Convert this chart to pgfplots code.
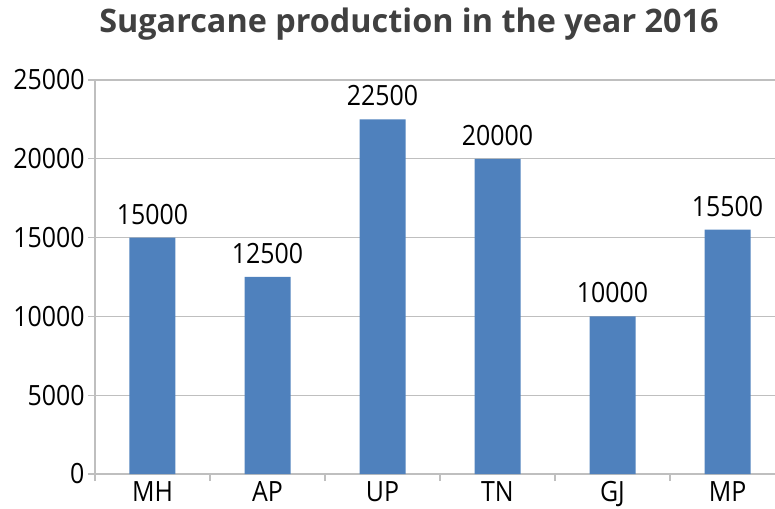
\documentclass[border=0pt]{standalone}
\usepackage{pgfplots}
\pgfplotsset{compat=1.18}
\usepackage{fontspec}
\setmainfont{Open Sans}
\definecolor{barblue}{HTML}{4F81BD}
\definecolor{gridgray}{HTML}{BFBFBF}
\definecolor{titlegray}{HTML}{404040}
\newcommand{\vs}[1]{\scalebox{1}[1.12]{#1}}
\begin{document}
\begin{tikzpicture}
\begin{axis}[
  scale only axis, width=690bp, height=394bp,
  xmin=-0.5, xmax=5.5, ymin=0, ymax=25000,
  clip=false,
  axis x line*=bottom, axis y line*=left,
  axis line style={gridgray,-,line width=1.2bp},
  xtick={-0.5,0.5,...,5.5},
  xticklabels={\vs{MH},\vs{AP},\vs{UP},\vs{TN},\vs{GJ},\vs{MP}},
  x tick label as interval,
  xticklabel style={yshift=2bp, inner sep=2bp},
  ytick={0,5000,...,25000},
  scaled y ticks=false,
  yticklabel={\vs{\pgfmathprintnumber{\tick}}},
  ymajorgrids, grid style={gridgray,line width=1.2bp},
  tick align=outside, major tick length=7bp,
  tick style={gridgray,line width=1.2bp},
  tick label style={font=\fontsize{25}{30}\selectfont, black},
  /pgf/number format/1000 sep={},
  /pgf/number format/assume math mode=true,
  ybar, bar width=46bp,
  nodes near coords={\vs{\pgfmathprintnumber{\pgfplotspointmeta}}},
  every node near coord/.append style={anchor=south, inner sep=0pt, yshift=13bp, font=\fontsize{25}{30}\selectfont, black},
]
\addplot[fill=barblue, draw=none] coordinates {(0,15000) (1,12500) (2,22500) (3,20000) (4,10000) (5,15500)};
\coordinate (bl) at (rel axis cs:0,0);
\coordinate (tr) at (rel axis cs:0.9855,1);
\node[anchor=base, font=\bfseries\fontsize{32.5}{38}\selectfont, text=titlegray] at (rel axis cs:0.455,1.1218) {Sugarcane production in the year 2016};
\end{axis}
\pgfresetboundingbox
\path[use as bounding box] ([xshift=-95bp,yshift=-35bp]bl) rectangle ([yshift=80bp]tr);
\end{tikzpicture}
\end{document}
